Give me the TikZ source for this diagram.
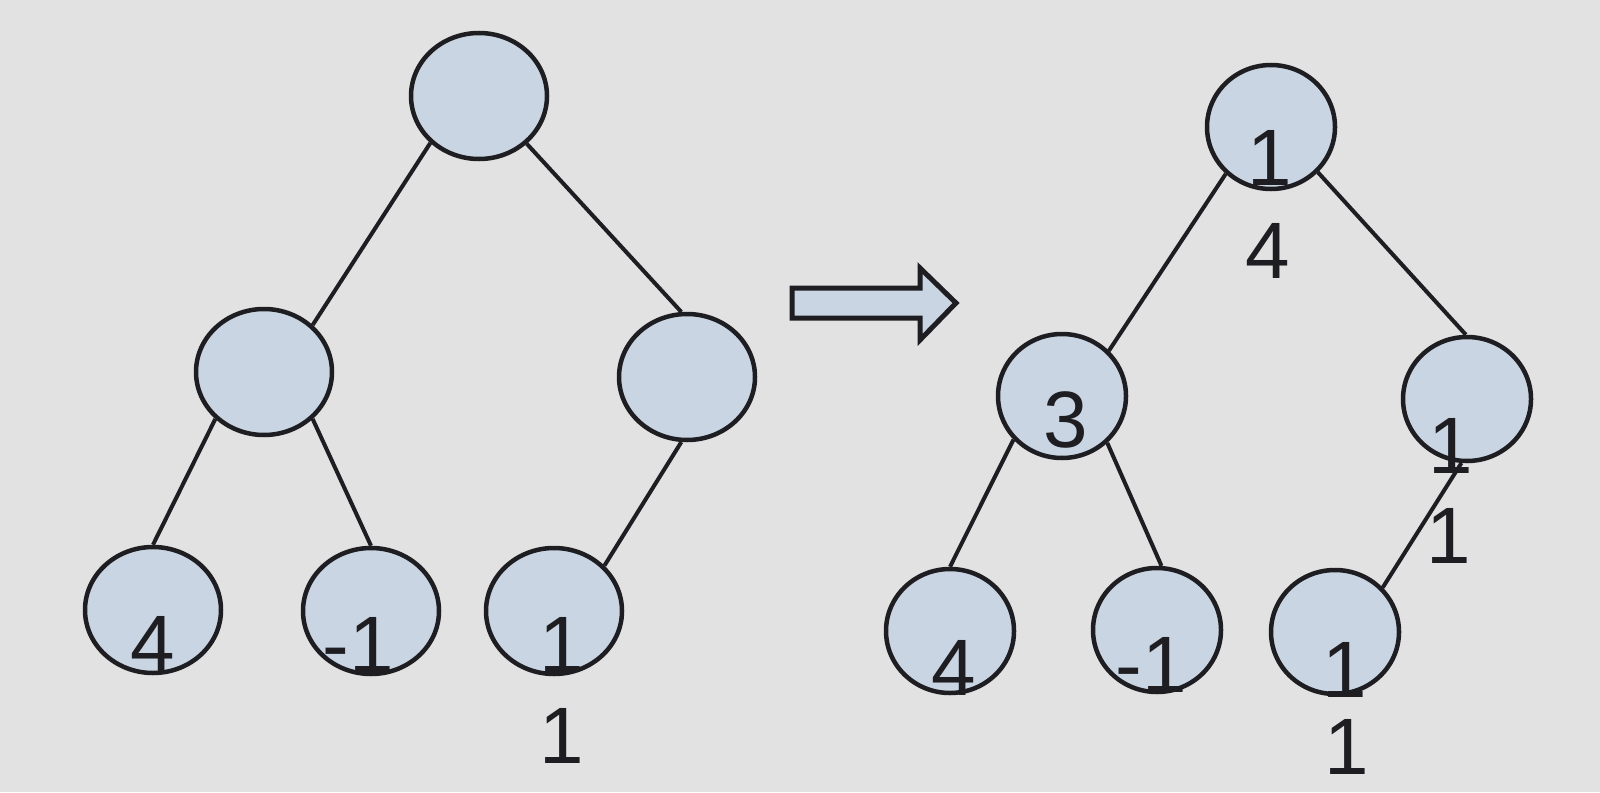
\documentclass[tikz,border=0pt]{standalone}
\usepackage{fontspec}
\setmainfont{Liberation Sans}
\usetikzlibrary{shapes.geometric}
\definecolor{bgcol}{HTML}{E2E2E2}
\definecolor{nodefill}{HTML}{C9D5E2}
\definecolor{ink}{HTML}{1E1E22}
\tikzset{
  treenode/.style={ellipse, draw=ink, fill=nodefill, line width=4.5pt, inner sep=0pt,
    minimum width=136pt, minimum height=126pt},
  treenodeR/.style={treenode, minimum width=128pt, minimum height=124pt},
  val/.style={inner sep=0pt, text=ink, font=\fontsize{80}{92}\selectfont},
  edge/.style={draw=ink, line width=4pt},
  blockarrow/.style={draw=ink, fill=nodefill, line width=5pt, line join=miter}
}
\begin{document}
\begin{tikzpicture}[x=1pt,y=-1pt]
\useasboundingbox (0,0) rectangle (1600,792);
\fill[bgcol] (0,0) rectangle (1600,792);

% left tree
\node[treenode] (lr) at (479,96) {};
\node[treenode] (lm) at (264,372) {};
\node[treenode] (rm) at (687,377) {};
\node[treenode] (l4) at (153,610) {};
\node[treenode] (ln) at (371,611) {};
\node[treenode] (l1) at (554,611) {};
\draw[edge] (lr.224) -- (lm.44);
\draw[edge] (lr.315) -- (rm.95);
\draw[edge] (lm.224) -- (l4.90);
\draw[edge] (lm.316) -- (ln.90);
\draw[edge] (rm.265) -- (l1.42);
\node[val] (t1) at (153,644) {4};
\node[val] (t2) at (358,645) {-1};
\node[val] (t3) at (562,645) {1};
\node[val] (t4) at (562,736) {1};

% arrow
\draw[blockarrow] (792,288) coordinate (a0) -- (920,288) -- (920,268) -- (956,303) coordinate (a1)
  -- (920,340) -- (920,318) -- (792,318) -- cycle;

% right tree
\node[treenodeR] (rr) at (1271,127) {};
\node[treenodeR] (r3) at (1062,396) {};
\node[treenodeR] (rq) at (1467,399) {};
\node[treenodeR] (r4) at (950,631) {};
\node[treenodeR] (rn) at (1157,630) {};
\node[treenodeR] (r1) at (1335,632) {};
\draw[edge] (rr.226) -- (r3.44);
\draw[edge] (rr.316) -- (rq.91);
\draw[edge] (r3.222) -- (r4.90);
\draw[edge] (r3.314) -- (rn.86);
\draw[edge] (rq.265) -- (r1.43);
\node[val] (s1) at (1270,158) {1};
\node[val] (s2) at (1268,251) {4};
\node[val] (s3) at (1066,420) {3};
\node[val] (s4) at (1451,446) {1};
\node[val] (s5) at (1449,536) {1};
\node[val] (s6) at (954,668) {4};
\node[val] (s7) at (1151,665) {-1};
\node[val] (s8) at (1345,670) {1};
\node[val] (s9) at (1347,747) {1};
\end{tikzpicture}
\end{document}
